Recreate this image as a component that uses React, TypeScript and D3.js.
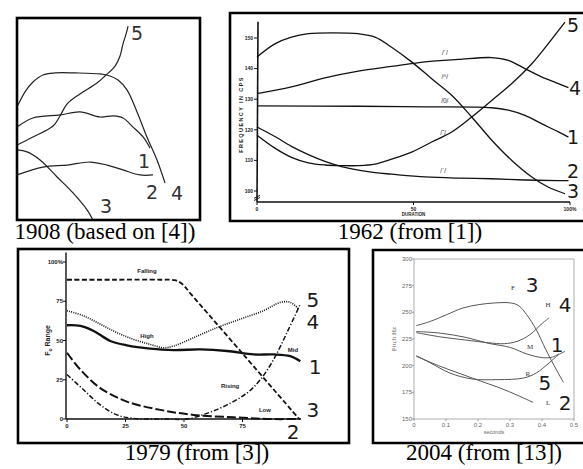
import React from 'react';
import * as d3 from 'd3';

type Pt = [number, number];

// ---- 1908 panel (hand drawn, no axes; 0-100 units both ways)
const a1908Tone5: Pt[] = [[0, 37.1], [8.7, 41.1], [19.7, 46.5], [23.5, 51.5], [27.3, 57.4], [34.4, 62.4], [43.7, 67.8], [48.1, 71.3], [53.6, 76.2], [56.3, 81.2], [57.9, 87.1], [59.6, 92.1], [60.7, 96]];
const a1908Tone4: Pt[] = [[0, 55.9], [4.4, 63.4], [8.7, 68.3], [14.2, 71.8], [20.8, 72.8], [31.7, 72.8], [45.4, 72.3], [50.8, 71.3], [55.2, 69.3], [60.1, 64.4], [65.6, 53.5], [71, 41.1], [76.5, 29.7], [80.9, 18.3]];
const a1908Tone1: Pt[] = [[0, 46], [8.7, 50.5], [23.5, 52], [34.4, 53.5], [45.4, 51], [52.5, 51.5], [57.9, 50.5], [63.4, 46], [68.9, 41.1], [72.7, 35.6]];
const a1908Tone2: Pt[] = [[0, 22.3], [14.2, 26.2], [27.3, 27.2], [39.9, 28.7], [49.2, 27.2], [57.9, 24.8], [67.2, 22.3], [74.3, 22.3]];
const a1908Tone3: Pt[] = [[0, 34.7], [5.5, 33.7], [12.6, 29.7], [21.9, 21.3], [30.6, 13.4], [38.3, 5], [41.5, 0]];
const a1908Labels = [
  { t: '5', x: 65.6, y: 92.6 }, { t: '4', x: 87.4, y: 13.4 }, { t: '1', x: 69.4, y: 29.2 },
  { t: '2', x: 73.8, y: 13.9 }, { t: '3', x: 48.6, y: 7 },
];

// ---- 1962 panel (duration %, frequency cps)
const b1962Tone3: Pt[] = [[0, 143.8], [5.7, 148.1], [11, 150.3], [16.4, 151.4], [23.9, 151.7], [32.4, 151.4], [37.7, 150.3], [43, 147], [49.4, 142.2], [55.8, 136.7], [62.2, 131.3], [68.6, 124.2], [75, 116.6], [81.4, 110], [87.8, 104.6], [93, 101.3], [98.4, 99.1]];
const b1962Tone4: Pt[] = [[0, 131.8], [11, 134], [21.7, 137], [32.4, 139.2], [43, 140.7], [53.7, 142.2], [64.3, 143], [75, 143.6], [80.3, 142.7], [85.6, 140], [90.9, 137.3], [96.3, 135.1], [99.5, 133.8]];
const b1962Tone1: Pt[] = [[0, 127.8], [32.4, 127.7], [53.7, 127.5], [75, 127.2], [80.3, 126.4], [85.6, 124.7], [90.9, 122], [96.3, 119.3], [99.5, 117.6]];
const b1962Tone5: Pt[] = [[0, 118.2], [5.7, 114], [11, 111], [16.4, 109.2], [21.7, 108.5], [27, 108.3], [32.4, 108.3], [37.7, 108.8], [43, 110.4], [49.4, 112.7], [55.8, 116], [62.2, 119.3], [68.6, 124.2], [75, 129.6], [81.4, 135.1], [87.8, 141.6], [93, 148.1], [98.4, 155.2]];
const b1962Tone2: Pt[] = [[0, 120.9], [5.7, 117.8], [11, 114.6], [16.4, 111.9], [21.7, 109.7], [27, 108], [32.4, 106.8], [37.7, 106], [43, 105.5], [53.7, 104.6], [64.3, 104.2], [75, 104], [85.6, 103.6], [96.3, 103.4], [99.5, 103.4]];
const b1962YTicks = [100, 110, 120, 130, 140, 150];
const b1962XTicks = [0, 50, 100];
const b1962XTickLabels = ['0', '50', '100%'];
const b1962ToneMarks = [
  { t: '/ˊ/', x: 60, y: 144.4 }, { t: '/^/', x: 60, y: 136.6 }, { t: '/0/', x: 60, y: 128.8 },
  { t: '/ˇ/', x: 59.5, y: 118.3 }, { t: '/ˋ/', x: 59.5, y: 105.9 },
];
const b1962Labels = [
  { t: '5', x: 101, y: 154.2 }, { t: '4', x: 101.6, y: 133.7 }, { t: '1', x: 101, y: 117.6 },
  { t: '2', x: 101, y: 106.6 }, { t: '3', x: 101, y: 99.9 },
];

// ---- 1979 panel (duration, F0 range %)
const c1979Falling: Pt[] = [[0, 88.7], [20, 88.7], [40, 88.7], [46, 88.4], [49, 86.3], [53, 79.5], [76, 40], [99, 0.4]];
const c1979High: Pt[] = [[0, 69], [7.1, 65.7], [14.2, 60.4], [21.4, 55], [28.5, 50.7], [35.6, 47.5], [41.3, 45.4], [45.6, 46.5], [54.1, 51.8], [64.1, 58.2], [74, 63.6], [84, 69], [91.2, 74.3], [95.4, 74.3], [99, 70]];
const c1979Mid: Pt[] = [[0, 59.7], [5.7, 59.3], [11.4, 56.1], [18.5, 49.7], [25.6, 46.9], [35.6, 44.8], [45.6, 43.9], [57, 44.3], [68.4, 43.3], [79.8, 41.1], [88.3, 41.1], [95.4, 40], [99.7, 36.8]];
const c1979Low: Pt[] = [[0, 42.2], [5.7, 31.5], [14.2, 19.7], [25.6, 11.1], [39.9, 5.8], [54.1, 2.6], [71.2, 1.1], [85.5, 0], [99.7, 0]];
const c1979Rising: Pt[] = [[0, 28.3], [7.1, 18.6], [14.2, 9], [21.4, 2.6], [28.5, 0.4], [42.7, 0], [51.3, 0], [59.8, 3.6], [68.4, 9], [76.9, 16.5], [82.6, 25], [88.3, 37.9], [94, 55], [99.7, 73.2]];
const c1979YTicks = [0, 25, 50, 75, 100];
const c1979YTickLabels = ['0', '25', '50', '75', '100%'];
const c1979XTicks = [0, 25, 50, 75];
const c1979Names = [
  { t: 'Falling', x: 34.2, y: 93 }, { t: 'High', x: 34.2, y: 51.6 }, { t: 'Mid', x: 96.6, y: 42.7 },
  { t: 'Rising', x: 69.7, y: 19.7 }, { t: 'Low', x: 84.6, y: 4.5 },
];
const c1979Labels = [
  { t: '5', x: 105.1, y: 75.8 }, { t: '4', x: 105.1, y: 61.8 }, { t: '1', x: 106, y: 33.1 },
  { t: '3', x: 105.1, y: 5.7 }, { t: '2', x: 96.6, y: -8.3 },
];

// ---- 2004 panel (seconds, pitch Hz)
const d2004F: Pt[] = [[0.007, 237.5], [0.052, 241.6], [0.102, 247.8], [0.152, 254], [0.202, 257.2], [0.252, 258.8], [0.302, 258.8], [0.327, 256.3], [0.352, 247.8], [0.382, 233.8], [0.412, 215], [0.442, 197.8], [0.467, 184.4]];
const d2004H: Pt[] = [[0.007, 231], [0.082, 227], [0.162, 224], [0.232, 221.5], [0.282, 220.6], [0.322, 222.8], [0.362, 229], [0.402, 240], [0.422, 244.7]];
const d2004M: Pt[] = [[0.007, 232], [0.082, 230.5], [0.162, 226.5], [0.232, 221], [0.302, 217], [0.352, 211], [0.402, 207.5], [0.432, 208], [0.452, 211]];
const d2004R: Pt[] = [[0.007, 209.4], [0.052, 202.5], [0.112, 193.1], [0.182, 187.5], [0.262, 186.9], [0.342, 188.4], [0.382, 193.1], [0.422, 202.5], [0.452, 210.3], [0.472, 213.4]];
const d2004L: Pt[] = [[0.007, 208.8], [0.082, 199.4], [0.182, 188.4], [0.282, 177.5], [0.342, 169.7], [0.372, 165.6]];
const d2004YTicks = [150, 175, 200, 225, 250, 275, 300];
const d2004XTicks = [0, 0.1, 0.2, 0.3, 0.4, 0.5];
const d2004Names = [
  { t: 'F', x: 0.309, y: 272.8 }, { t: 'H', x: 0.419, y: 256.9 }, { t: 'M', x: 0.3625, y: 217.5 },
  { t: 'R', x: 0.356, y: 192.2 }, { t: 'L', x: 0.419, y: 165 },
];
const d2004Labels = [
  { t: '3', x: 0.369, y: 275.6 }, { t: '4', x: 0.472, y: 256.9 }, { t: '1', x: 0.447, y: 219.4 },
  { t: '5', x: 0.409, y: 183.75 }, { t: '2', x: 0.472, y: 165 },
];

const captions = [
  { t: '1908 (based on [4])', x: 105, y: 239 },
  { t: '1962 (from [1])', x: 410, y: 239 },
  { t: '1979 (from [3])', x: 197, y: 460 },
  { t: '2004 (from [13])', x: 484, y: 460 },
];

const serif = '"Liberation Serif", "Times New Roman", serif';
const sans = '"Liberation Sans", Arial, sans-serif';
const digitFont = '"DejaVu Sans", sans-serif';

export default function App() {
  const smooth = d3.curveCatmullRom.alpha(0.5);
  const mk = (sx: d3.ScaleLinear<number, number>, sy: d3.ScaleLinear<number, number>) =>
    d3.line<Pt>().x(d => sx(d[0])).y(d => sy(d[1])).curve(smooth);

  const xA = d3.scaleLinear().domain([0, 100]).range([17, 200]);
  const yA = d3.scaleLinear().domain([0, 100]).range([220, 18]);
  const xB = d3.scaleLinear().domain([0, 100]).range([257, 570]);
  const yB = d3.scaleLinear().domain([100, 150]).range([191, 38]);
  const xC = d3.scaleLinear().domain([0, 100]).range([67, 301]);
  const yC = d3.scaleLinear().domain([0, 100]).range([419, 262]);
  const xD = d3.scaleLinear().domain([0, 0.5]).range([414, 574]);
  const yD = d3.scaleLinear().domain([150, 300]).range([419, 259]);

  const lA = mk(xA, yA), lB = mk(xB, yB), lC = mk(xC, yC), lD = mk(xD, yD);

  const digit = (arr: { t: string; x: number; y: number }[], sx: any, sy: any, size = 20, fill = '#1a1a1a') =>
    arr.map((d, i) => (
      <text key={i} x={sx(d.x)} y={sy(d.y)} dy="0.36em" textAnchor="middle"
        fontFamily={digitFont} fontSize={size} fill={fill}>{d.t}</text>
    ));

  return (
    <svg width={583} height={469} style={{ position: 'absolute', left: 0, top: 0, background: '#fff' }}>
      <defs>
        <clipPath id="clipA"><rect x={17} y={18} width={183} height={202} /></clipPath>
        <clipPath id="clipD"><rect x={373} y={250} width={210} height={193} /></clipPath>
      </defs>

      {/* 1908 */}
      <g clipPath="url(#clipA)" fill="none" stroke="#222" strokeWidth={1.2}>
        {[a1908Tone5, a1908Tone4, a1908Tone1, a1908Tone2, a1908Tone3].map((s, i) => (
          <path key={i} d={lA(s) || ''} />
        ))}
      </g>
      {digit(a1908Labels, xA, yA, 19, '#333')}
      <rect x={17} y={18} width={183} height={202} fill="none" stroke="#000" strokeWidth={2.6} />

      {/* 1962 */}
      <g>
        <line x1={xB(0)} x2={xB(0) + 1} y1={yB(96.4)} y2={yB(155.3)} stroke="#111" strokeWidth={1.6} />
        <line x1={xB(0)} x2={xB(100)} y1={yB(96.4)} y2={yB(96.4)} stroke="#111" strokeWidth={1.6} />
        <path d={`M${xB(0) - 3},${yB(97.6)} l6,-3 M${xB(0) - 3},${yB(96.9)} l6,-3`} stroke="#111" strokeWidth={1} />
        {b1962YTicks.map(v => (
          <g key={v}>
            <line x1={xB(0) - 3} x2={xB(0)} y1={yB(v)} y2={yB(v)} stroke="#111" strokeWidth={1} />
            <text x={xB(0) - 4} y={yB(v)} dy="0.35em" textAnchor="end" fontFamily={sans} fontWeight="bold" fontSize={5} fill="#222">{v}</text>
          </g>
        ))}
        {b1962XTicks.map((v, i) => (
          <g key={v}>
            <line x1={xB(v)} x2={xB(v)} y1={yB(96.4)} y2={yB(96.4) + 3} stroke="#111" strokeWidth={1} />
            <text x={xB(v)} y={yB(96.4) + 9} textAnchor="middle" fontFamily={sans} fontWeight="bold" fontSize={5} fill="#222">{b1962XTickLabels[i]}</text>
          </g>
        ))}
        <text x={xB(50)} y={yB(96.4) + 14} textAnchor="middle" fontFamily={sans} fontWeight="bold" fontSize={4.5} fill="#222">DURATION</text>
        <text transform={`translate(243,${yB(125)}) rotate(-90)`} textAnchor="middle" fontFamily={sans} fontWeight="bold" fontSize={5.5} letterSpacing={1.4} fill="#222">FREQUENCY IN CPS</text>
        <g fill="none" stroke="#111" strokeWidth={1.3}>
          {[b1962Tone3, b1962Tone4, b1962Tone1, b1962Tone5, b1962Tone2].map((s, i) => (
            <path key={i} d={lB(s) || ''} />
          ))}
        </g>
        {b1962ToneMarks.map((d, i) => (
          <text key={i} x={xB(d.x)} y={yB(d.y)} textAnchor="middle" fontFamily={sans} fontSize={6.5} fill="#333">{d.t}</text>
        ))}
        {digit(b1962Labels, xB, yB, 19)}
        <path d="M583,13 H230 V221 H583" fill="none" stroke="#000" strokeWidth={2.6} />
      </g>

      {/* 1979 */}
      <g>
        <line x1={66} x2={66} y1={yC(0)} y2={yC(106)} stroke="#111" strokeWidth={1.4} />
        <line x1={66} x2={xC(100)} y1={yC(0)} y2={yC(0)} stroke="#111" strokeWidth={1.4} />
        {c1979YTicks.map((v, i) => (
          <g key={v}>
            <line x1={63} x2={66} y1={yC(v)} y2={yC(v)} stroke="#111" strokeWidth={1} />
            <text x={63} y={yC(v)} dy="0.35em" textAnchor="end" fontFamily={sans} fontWeight="bold" fontSize={6} fill="#222">{c1979YTickLabels[i]}</text>
          </g>
        ))}
        {c1979XTicks.map(v => (
          <g key={v}>
            <line x1={xC(v)} x2={xC(v)} y1={yC(0)} y2={yC(0) + 3} stroke="#111" strokeWidth={1} />
            <text x={xC(v)} y={yC(0) + 9} textAnchor="middle" fontFamily={sans} fontWeight="bold" fontSize={6} fill="#222">{v}</text>
          </g>
        ))}
        <text transform={`translate(50,${yC(50)}) rotate(-90)`} textAnchor="middle" fontFamily={sans} fontWeight="bold" fontSize={7} fill="#222">F<tspan fontSize={5} dy="1.5">o</tspan><tspan dy="-1.5"> Range</tspan></text>
        <g fill="none" stroke="#111">
          <path d={lC(c1979Falling) || ''} strokeWidth={1.8} strokeDasharray="5,2.5" />
          <path d={lC(c1979High) || ''} strokeWidth={1.6} strokeDasharray="1,1.2" />
          <path d={lC(c1979Mid) || ''} strokeWidth={2.3} />
          <path d={lC(c1979Low) || ''} strokeWidth={2} strokeDasharray="9,3" />
          <path d={lC(c1979Rising) || ''} strokeWidth={1.5} strokeDasharray="5,2,1.2,2" />
        </g>
        {c1979Names.map((d, i) => (
          <text key={i} x={xC(d.x)} y={yC(d.y)} textAnchor="middle" fontFamily={sans} fontWeight="bold" fontSize={6} fill="#222">{d.t}</text>
        ))}
        {digit(c1979Labels, xC, yC, 20)}
        <rect x={18} y={249} width={331} height={194} fill="none" stroke="#000" strokeWidth={2.6} />
      </g>

      {/* 2004 */}
      <g clipPath="url(#clipD)">
        <rect x={xD(0)} y={yD(300)} width={xD(0.5) - xD(0)} height={yD(150) - yD(300)} fill="none" stroke="#999" strokeWidth={0.8} />
        {d2004YTicks.map(v => (
          <g key={v}>
            <line x1={xD(0) - 2} x2={xD(0)} y1={yD(v)} y2={yD(v)} stroke="#888" strokeWidth={0.8} />
            <text x={xD(0) - 2} y={yD(v)} dy="0.35em" textAnchor="end" fontFamily={sans} fontSize={6} fill="#666">{v}</text>
          </g>
        ))}
        {d2004XTicks.map(v => (
          <g key={v}>
            <line x1={xD(v)} x2={xD(v)} y1={yD(150)} y2={yD(150) + 2} stroke="#888" strokeWidth={0.8} />
            <text x={xD(v)} y={yD(150) + 8} textAnchor="middle" fontFamily={sans} fontSize={6} fill="#666">{v === 0 ? '0' : v.toFixed(1)}</text>
          </g>
        ))}
        <text x={xD(0.25)} y={yD(150) + 15} textAnchor="middle" fontFamily={sans} fontSize={5.5} fill="#666">seconds</text>
        <text transform={`translate(396,${yD(225)}) rotate(-90)`} textAnchor="middle" fontFamily={serif} fontSize={7} fill="#666">Pitch Hz</text>
        <g fill="none" stroke="#555" strokeWidth={1}>
          {[d2004F, d2004H, d2004M, d2004R, d2004L].map((s, i) => (
            <path key={i} d={lD(s) || ''} />
          ))}
        </g>
        {d2004Names.map((d, i) => (
          <text key={i} x={xD(d.x)} y={yD(d.y)} dy="0.35em" textAnchor="middle" fontFamily={serif} fontSize={7} fill="#333">{d.t}</text>
        ))}
        {digit(d2004Labels, xD, yD, 20)}
      </g>
      <path d="M583,250 H373 V443 H583" fill="none" stroke="#000" strokeWidth={2.6} />

      {captions.map((c, i) => (
        <text key={i} x={c.x} y={c.y} textAnchor="middle" fontFamily={serif} fontSize={23} fill="#000">{c.t}</text>
      ))}
    </svg>
  );
}
